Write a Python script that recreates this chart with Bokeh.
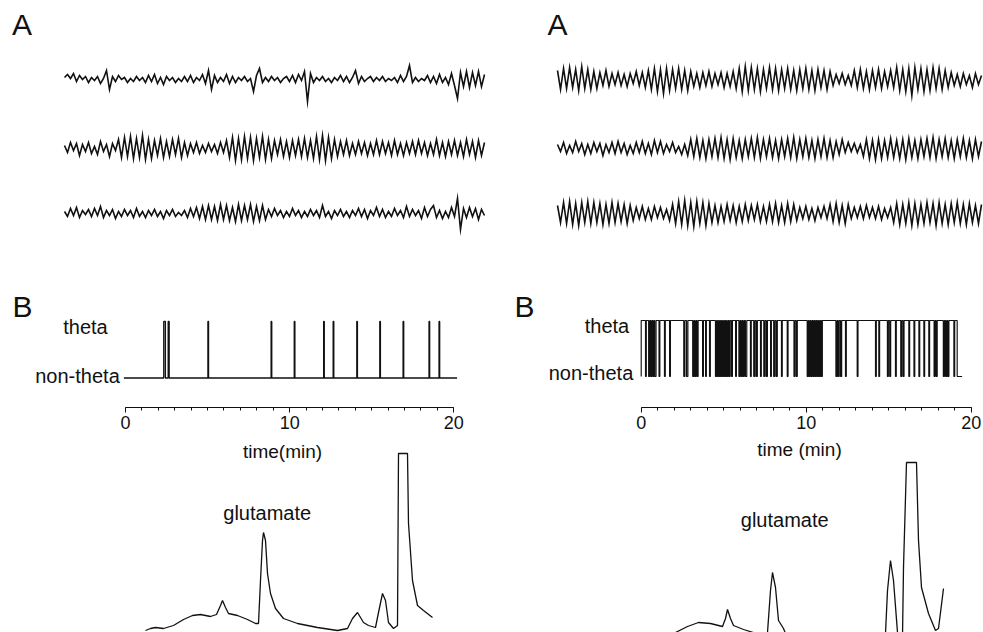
import numpy as np
from bokeh.plotting import figure
from bokeh.models import Range1d, LinearAxis, FixedTicker, Label
from bokeh.layouts import row, column
from bokeh.embed import file_html
from bokeh.resources import INLINE

# ===================== DATA =====================
# A: EEG traces (arbitrary units), sampled every eeg_dt seconds
eeg_dt = 0.05

eeg_left_1 = [2, 5, 1, 6, -2, 4, 0, 3, -3, 2,
              -1, 3, -4, 1, 9, -10, 3, -2, 4, 0,
              2, -3, 1, -2, 3, -1, 2, -3, 4, -2,
              5, -4, 2, -5, 3, -1, 2, -3, 1, -2,
              3, -2, 4, -3, 2, -1, 5, -4, 9, -10,
              4, -3, 2, -2, 5, -4, 3, -3, 2, -1,
              3, -2, 1, -12, 4, 11, -3, 2, -2, 3,
              -1, 2, -3, 1, 3, -2, 4, -3, 5, -1,
              8, -22, 6, -3, 2, -1, 3, -2, 1, -3,
              2, -1, 4, -2, 3, -3, 2, 9, -4, 3,
              -2, 1, 3, -2, 2, -1, 3, -2, 1, -1,
              2, -3, 4, -2, 3, 14, -3, 2, -2, 1,
              -1, 4, -3, 3, -4, 5, -3, 2, -5, 6,
              -6, -19, 7, -7, 8, -8, 7, -6, 8, -7, 5]
eeg_left_2 = [3, -4, 6, -2, 5, -7, 4, -3, 6, -5,
              2, -6, 7, -3, 4, -8, 5, -2, 9, -9,
              11, -8, 12, -10, 10, -9, 13, -11, 9, -10,
              8, -7, 10, -9, 7, -8, 9, -6, 10, -9,
              6, -7, 5, -4, 6, -5, 3, -4, 5, -3,
              4, -5, 6, -4, 8, -9, 11, -12, 10, -11,
              12, -10, 11, -12, 10, -9, 12, -11, 9, -10,
              8, -6, 9, -8, 7, -9, 8, -7, 9, -8,
              10, -9, 8, -10, 12, -11, 13, -12, 11, -10,
              9, -8, 7, -6, 8, -7, 5, -6, 7, -5,
              6, -7, 5, -6, 8, -6, 7, -5, 6, -7,
              8, -6, 5, -7, 6, -5, 7, -6, 8, -5,
              6, -7, 5, -6, 9, -7, 6, -8, 7, -6,
              8, -7, 6, -8, 9, -6, 7, -9, 8, -7, 6]
eeg_left_3 = [2, -3, 5, -2, 6, -4, 3, -1, 4, -3,
              5, -2, 7, -4, 3, -2, 4, -5, 2, -3,
              4, -2, 3, -4, 5, -3, 2, -4, 3, -2,
              4, -3, 2, -5, 3, -2, 4, -3, 1, -2,
              3, -4, 5, -3, 6, -5, 7, -6, 8, -6,
              7, -7, 9, -6, 8, -7, 6, -8, 9, -7,
              8, -6, 9, -8, 7, -7, 8, -6, 4, -3,
              5, -2, 3, -4, 2, -3, 5, -2, 3, -4,
              2, -3, 4, -2, 3, -4, 8, -3, 2, -5,
              3, -2, 4, -3, 2, -4, 3, -2, 5, -3,
              4, -5, 3, -2, 6, -3, 4, -4, 2, -3,
              5, -2, 3, -4, 7, -3, 4, -2, 3, -5,
              6, -3, 4, 8, -4, 3, -5, 2, -4, 6,
              -3, 15, -16, 5, -4, 6, -3, 5, -6, 4, -2]
eeg_right_1 = [9, -10, 11, -9, 12, -8, 10, -11, 13, -9,
               10, -10, 8, -9, 7, -6, 9, -7, 6, -5,
               7, -6, 5, -7, 6, -4, 8, -6, 7, -8,
               9, -10, 11, -12, 10, -14, 11, -11, 10, -9,
               11, -10, 9, -11, 8, -7, 6, -8, 7, -6,
               8, -7, 6, -5, 7, -8, 6, -7, 8, -9,
               11, -12, 13, -11, 12, -10, 11, -12, 10, -9,
               12, -10, 11, -11, 10, -9, 11, -10, 9, -11,
               10, -9, 11, -10, 9, -11, 10, -8, 9, -10,
               8, -6, 5, -4, 6, -5, 4, -6, 9, -8,
               10, -9, 8, -10, 9, -8, 10, -9, 8, -7,
               9, -8, 12, -11, 10, -12, 11, -16, 12, -10,
               11, -12, 10, -11, 12, -9, 11, -10, 9, -8,
               7, -6, 5, -7, 6, -5, 4, -8, 6, -5, 4]
eeg_right_2 = [4, -3, 6, -5, 3, -4, 7, -3, 5, -6,
               4, -5, 6, -3, 5, -7, 4, -4, 6, -5,
               7, -4, 5, -6, 3, -5, 6, -4, 7, -5,
               5, -6, 8, -4, 7, -5, 4, -3, 6, -4,
               2, -6, 4, -7, 9, -8, 10, -9, 8, -10,
               9, -8, 10, -9, 11, -10, 9, -11, 10, -9,
               8, -10, 9, -8, 10, -9, 11, -10, 9, -8,
               10, -9, 8, -10, 9, -8, 10, -9, 11, -10,
               9, -8, 10, -9, 8, -10, 9, -8, 10, -9,
               8, -9, 7, -6, 9, -4, 6, -3, 5, -4,
               4, -8, 9, -10, 8, -11, 9, -10, 8, -9,
               10, -9, 8, -10, 9, -11, 10, -9, 8, -10,
               9, -8, 10, -9, 11, -10, 9, -8, 10, -9,
               8, -10, 9, -8, 10, -9, 8, -10, 9, -8, 7]
eeg_right_3 = [8, -9, 11, -10, 12, -11, 10, -12, 11, -9,
               12, -10, 11, -9, 10, -11, 9, -10, 11, -9,
               10, -8, 9, -10, 8, -7, 6, -5, 7, -6,
               5, -6, 7, -4, 6, -5, 4, -7, 9, -10,
               12, -11, 13, -12, 11, -13, 12, -10, 11, -12,
               10, -9, 8, -9, 7, -8, 9, -7, 8, -9,
               7, -8, 9, -7, 8, -6, 9, -8, 7, -8,
               9, -8, 10, -9, 8, -9, 10, -8, 9, -7,
               6, -5, 7, -6, 5, -7, 6, -4, 7, -5,
               9, -8, 10, -9, 8, -10, 9, -5, 6, -4,
               7, -5, 8, -4, 6, -5, 7, -6, 5, -4,
               6, -9, 10, -11, 9, -10, 11, -12, 10, -11,
               9, -10, 11, -9, 10, -12, 11, -10, 9, -11,
               10, -9, 11, -10, 9, -11, 10, -9, 8, -10, 9]

# B: hippocampal state (theta / non-theta), time in minutes
time_ticks = [0, 10, 20]
time_minor_ticks = list(range(0, 21))
state_labels = ["non-theta", "theta"]

left_record_start = -0.1
left_record_end = 20.2
left_theta_start = [2.33, 2.60, 5.02, 8.87, 10.28, 12.07, 12.65, 14.09, 15.49, 16.91, 18.49, 19.10]
left_theta_end = [2.43, 2.66, 5.06, 8.91, 10.32, 12.11, 12.69, 14.13, 15.53, 16.95, 18.53, 19.14]

right_record_start = 0.0
right_final_drop = 19.15
right_record_end = 19.45
right_nontheta_start = [0.26, 0.45, 0.58, 0.70, 0.82, 1.08, 1.41, 1.72, 2.58, 2.75,
                        3.12, 3.25, 3.38, 3.72, 3.90, 4.14, 4.50, 4.62, 4.74, 4.86,
                        4.98, 5.10, 5.20, 5.32, 5.47, 5.72, 5.92, 6.05, 6.18, 6.32,
                        6.62, 6.82, 6.97, 7.23, 7.43, 7.58, 7.84, 8.03, 8.18, 8.50,
                        8.85, 9.26, 9.40, 10.06, 10.18, 10.30, 10.42, 10.55, 10.68, 10.80,
                        10.92, 11.80, 11.93, 12.08, 12.38, 13.09, 14.20, 14.40, 14.92, 15.06,
                        15.41, 15.73, 15.87, 16.22, 16.53, 16.83, 17.13, 17.43, 17.75, 17.88,
                        18.31, 18.45, 18.58, 18.95]
right_nontheta_end = [0.31, 0.52, 0.65, 0.77, 0.90, 1.13, 1.46, 1.77, 2.65, 2.83,
                      3.19, 3.32, 3.45, 3.77, 3.95, 4.19, 4.57, 4.69, 4.81, 4.93,
                      5.05, 5.16, 5.27, 5.39, 5.53, 5.77, 5.99, 6.12, 6.25, 6.40,
                      6.67, 6.89, 7.04, 7.28, 7.50, 7.65, 7.89, 8.10, 8.25, 8.55,
                      8.90, 9.32, 9.46, 10.13, 10.25, 10.37, 10.49, 10.62, 10.75, 10.87,
                      10.98, 11.87, 12.00, 12.15, 12.43, 13.14, 14.25, 14.45, 14.98, 15.12,
                      15.46, 15.79, 15.93, 16.27, 16.58, 16.88, 17.18, 17.48, 17.81, 17.94,
                      18.38, 18.52, 18.65, 19.00]

# C: chromatograms (retention time in s, detector response in a.u.)
chrom_left_t = [0, 5, 10, 18, 28, 38, 47, 55, 65, 71, 75, 77, 80, 83, 92, 102, 110, 113,
                115, 117, 118, 120, 122, 125, 130, 138, 152, 172, 192, 202, 207, 212, 215,
                218, 223, 230, 233, 237, 240, 243, 248, 252, 253, 262, 263, 267, 272, 278, 287]
chrom_left_y = [2, 4, 5, 4, 7, 13, 17, 18, 16, 18, 27, 32, 25, 19, 17, 13, 9, 9,
                52, 92, 100, 92, 59, 39, 24, 14, 9, 5, 2, 4, 14, 20, 15,
                10, 7, 5, 20, 39, 32, 10, 4, 7, 179, 179, 109, 52, 27, 22, 15]
chrom_right_t = [0, 12, 23, 35, 47, 50, 52, 55, 58, 68, 78, 85, 90, 92, 95, 97, 100, 103,
                 108, 110, 115, 205, 210, 212, 215, 218, 222, 227, 228, 231, 241, 243, 246,
                 253, 260, 263, 268]
chrom_right_y = [0, 6, 10, 9, 6, 14, 23, 14, 7, 3, 0, -10, -10, 0, 42, 60, 45, 12,
                 4, -1, -10, -10, -1, 42, 72, 52, 0, -4, 65, 170, 170, 92, 45,
                 19, 2, 4, 44]

# ===================== STYLE / LAYOUT =====================
FONT = "Liberation Sans"
INK = "#111111"
COL_W = [491, 492]
ROW_H = [290, 150, 192]
AXIS_H = 33


def lin_range(d0, d1, p0, p1, size):
    """Range such that data d0->pixel p0 and d1->pixel p1 (pixels from left/top)."""
    s = (p1 - p0) / (d1 - d0)
    return Range1d(start=d0 - p0 / s, end=d0 + (size - p0) / s)


def lin_range_y(v0, c0, v1, c1, size):
    """Vertical range: value v0 at c0 px from top, v1 at c1 px from top."""
    s = (c1 - c0) / (v0 - v1)
    return Range1d(start=v0 - (size - c0) / s, end=v0 + c0 / s)


def px_x(r, w, px):
    return r.start + px * (r.end - r.start) / w


def px_y(r, h, c):
    return r.end - c * (r.end - r.start) / h


def make_fig(w, h, xr, yr, **kw):
    p = figure(width=w, height=h, x_range=xr, y_range=yr, output_backend="svg",
               toolbar_location=None, x_axis_location=None, y_axis_location=None,
               min_border=0, **kw)
    p.grid.visible = False
    p.outline_line_color = None
    p.background_fill_color = "white"
    p.border_fill_color = "white"
    return p


def add_text(p, xr, yr, w, h, px, py, text, size, align="left"):
    p.add_layout(Label(x=px_x(xr, w, px), y=px_y(yr, h, py), text=text,
                       text_font=FONT, text_font_size=size, text_color=INK,
                       text_align=align, text_baseline="alphabetic"))


# ---------- Row A: EEG ----------
def eeg_panel(w, traces, p0, p1, label_x):
    n = max(len(t) for t in traces)
    t_end = (n - 1) * eeg_dt
    xr = lin_range(0, t_end, p0, p1, w)
    yr = lin_range_y(0, 79, -1, 80, ROW_H[0])
    p = make_fig(w, ROW_H[0], xr, yr)
    offsets = [0, -69, -134]
    for vals, off in zip(traces, offsets):
        t = np.arange(len(vals)) * eeg_dt
        p.line(t, np.array(vals, dtype=float) + off, line_color=INK, line_width=1.6,
               line_join="miter")
    add_text(p, xr, yr, w, ROW_H[0], label_x, 23.5, "A", "30px")
    return p


aL = eeg_panel(COL_W[0], [eeg_left_1, eeg_left_2, eeg_left_3], 64, 484, 11.5)
aR = eeg_panel(COL_W[1], [eeg_right_1, eeg_right_2, eeg_right_3], 66, 490, 56)


# ---------- Row B: theta state ----------
def state_panel(w, xs, ys, lw, ax_p0, ax_p1, c_theta, c_non, b_x, theta_x, theta_base,
                non_x, non_base):
    fh = ROW_H[1] - AXIS_H
    xr = lin_range(0, 20, ax_p0, ax_p1, w)
    yr = lin_range_y(1, c_theta, 0, c_non, fh)
    p = make_fig(w, ROW_H[1], xr, yr, min_border_bottom=AXIS_H)
    p.line(xs, ys, line_color=INK, line_width=lw)
    ax = LinearAxis(ticker=FixedTicker(ticks=time_ticks, minor_ticks=time_minor_ticks),
                    bounds=(0, 20), axis_line_color=INK, axis_line_width=1.2,
                    major_tick_line_color=INK, minor_tick_line_color=INK,
                    major_tick_out=5, major_tick_in=0, minor_tick_out=3, minor_tick_in=0,
                    major_label_text_font=FONT, major_label_text_font_size="18px",
                    major_label_text_color=INK, major_label_standoff=3)
    p.add_layout(ax, "below")
    add_text(p, xr, yr, w, fh, b_x, 16, "B", "30px")
    add_text(p, xr, yr, w, fh, theta_x, theta_base, state_labels[1], "20px", "center")
    add_text(p, xr, yr, w, fh, non_x, non_base, state_labels[0], "20px", "center")
    return p


# left: non-theta baseline with short theta episodes
lx, ly = [left_record_start], [0]
for s, e in zip(left_theta_start, left_theta_end):
    lx += [s, s, e, e]
    ly += [0, 1, 1, 0]
lx.append(left_record_end)
ly.append(0)

# right: theta baseline with short non-theta episodes
rx, ry = [right_record_start, right_record_start], [0, 1]
for s, e in zip(right_nontheta_start, right_nontheta_end):
    rx += [s, s, e, e]
    ry += [1, 0, 0, 1]
rx += [right_final_drop, right_final_drop, right_record_end]
ry += [1, 0, 0]

bL = state_panel(COL_W[0], lx, ly, 1.3, 125, 453.3, 31, 87.5, 12, 85, 36.5, 77, 85.5)
bR = state_panel(COL_W[1], rx, ry, 1.15, 149.7, 479.7, 30, 86, 23, 115.5, 35, 99.5, 82)


# ---------- Row C: chromatograms ----------
def chrom_panel(w, t, y, p0, time_text, time_x, time_base, glu_x, glu_base):
    h = ROW_H[2]
    xr = lin_range(0, 1, p0, p0 + 1, w)
    yr = lin_range_y(0, h, 1, h - 1, h)
    p = make_fig(w, h, xr, yr)
    p.line(t, y, line_color=INK, line_width=1.3)
    add_text(p, xr, yr, w, h, time_x, time_base, time_text, "19px", "center")
    add_text(p, xr, yr, w, h, glu_x, glu_base, "glutamate", "20px", "center")
    return p


cL = chrom_panel(COL_W[0], chrom_left_t, chrom_left_y, 145, "time(min)", 282, 11, 266.7, 72.5)
cR = chrom_panel(COL_W[1], chrom_right_t, chrom_right_y, 184, "time (min)", 308, 9, 293.2, 79)

layout = column(row(aL, aR, spacing=0), row(bL, bR, spacing=0), row(cL, cR, spacing=0),
                spacing=0)

open("out.html", "w").write(file_html(layout, INLINE))
